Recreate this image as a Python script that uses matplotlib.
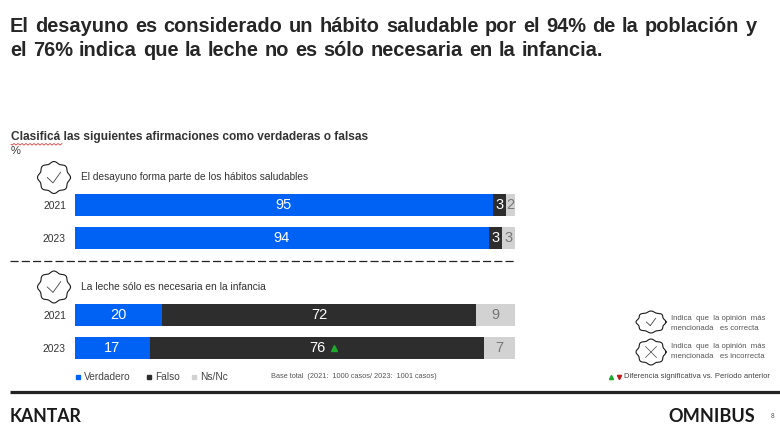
import numpy as np
import matplotlib
matplotlib.use('Agg')
import matplotlib.pyplot as plt

plt.rcParams['font.family'] = ['Liberation Sans', 'DejaVu Sans']

# chart values
years = ['2021', '2023', '2021', '2023']
verdadero = [95, 94, 20, 17]
falso = [3, 3, 72, 76]
nsnc = [2, 3, 9, 7]
series_names = ['Verdadero', 'Falso', 'Ns/Nc']
questions = ['El desayuno forma parte de los hábitos saludables',
             'La leche sólo es necesaria en la infancia']
title_lines = ['El desayuno es considerado un hábito saludable por el 94% de la población y',
               'el 76% indica que la leche no es sólo necesaria en la infancia.']
subtitle = 'Clasificá las siguientes afirmaciones como verdaderas o falsas'
base_text = 'Base total  (2021:  1000 casos/ 2023:  1001 casos)'
signif_text = 'Diferencia significativa vs. Período anterior'

BLUE = '#0062f5'
DARK = '#2d2d2d'
GREY = '#d2d2d2'
W, H = 780, 433

fig = plt.figure(figsize=(W / 100, H / 100), dpi=100)

# background axes in pixels for all the slide furniture
bg = fig.add_axes([0, 0, 1, 1])
bg.set_xlim(0, W)
bg.set_ylim(H, 0)
bg.axis('off')

# bars axes
row_y = [205, 238, 315, 348]
ax = fig.add_axes([75 / W, 1 - 370 / H, 440 / W, 180 / H])
ax.set_xlim(0, 100)
ax.set_ylim(370, 190)
ax.patch.set_alpha(0)
for s in ax.spines.values():
    s.set_visible(False)
ax.set_xticks([])
ax.set_yticks(row_y)
ax.set_yticklabels(years, fontsize=7.4, color='#333333')
ax.tick_params(axis='y', length=0, pad=6.5)

# rows don't always sum to 100 because of rounding, so bars are scaled to full width
v = np.array(verdadero, dtype=float)
f = np.array(falso, dtype=float)
n = np.array(nsnc, dtype=float)
total = v + f + n
v_w, f_w, n_w = v / total * 100, f / total * 100, n / total * 100

ax.barh(row_y, v_w, height=22, color=BLUE)
ax.barh(row_y, f_w, left=v_w, height=22, color=DARK)
ax.barh(row_y, n_w, left=v_w + f_w, height=22, color=GREY)

for i, y in enumerate(row_y):
    ax.text(v_w[i] / 2, y + 0.5, str(verdadero[i]), color='white', fontsize=10.5, ha='center', va='center')
    ax.text(v_w[i] + f_w[i] / 2, y + 0.5, str(falso[i]), color='white', fontsize=10.5, ha='center', va='center')
    ax.text(v_w[i] + f_w[i] + n_w[i] / 2, y + 0.5, str(nsnc[i]), color='#777777', fontsize=10.5, ha='center', va='center')

# up marker on the significant value, just right of the 76 label
ax.plot([v_w[3] + f_w[3] / 2], [348.5], marker='^', color='#1fa82e', ms=4.5, ls='none',
        transform=ax.transData + matplotlib.transforms.ScaledTranslation(17 / 100, 0, fig.dpi_scale_trans))


def justified(words_line, y, x0, x1, **kw):
    # place words one by one so the line fills x0..x1 like the slide text
    words = words_line.split(' ')
    r = fig.canvas.get_renderer()
    items = [bg.text(0, y, w, **kw) for w in words]
    widths = [t.get_window_extent(r).width for t in items]
    gap = (x1 - x0 - sum(widths)) / (len(words) - 1)
    x = x0
    for t, wd in zip(items, widths):
        t.set_x(x)
        x += wd + gap


def badge(cx, cy, rx, ry, cross=False):
    th = np.linspace(0, 2 * np.pi, 300)
    rad = 0.94 + 0.06 * np.cos(8 * th)
    bg.plot(cx + rx * rad * np.cos(th), cy + ry * rad * np.sin(th), color='#1a1a1a', lw=0.8)
    s = ry * 0.42
    if cross:
        bg.plot([cx - s, cx + s], [cy - s, cy + s], color='#444444', lw=0.5)
        bg.plot([cx - s, cx + s], [cy + s, cy - s], color='#444444', lw=0.5)
    else:
        bg.plot([cx - s, cx - s * 0.15, cx + s], [cy, cy + s * 0.8, cy - s * 0.8], color='#444444', lw=0.6)


# title
justified(title_lines[0], 26, 10, 757, fontsize=14.4, fontweight='bold', color='#262626', va='center')
justified(title_lines[1], 50, 10, 603, fontsize=14.4, fontweight='bold', color='#262626', va='center')

# subtitle
bg.text(11, 137, subtitle, fontsize=8.55, fontweight='bold', color='#333333', va='center')
bg.text(11, 151, '%', fontsize=8, color='#333333', va='center')
xs = np.arange(11, 63, 1.0)
bg.plot(xs, 144.3 + np.array([0, 0.8, 0, -0.8] * 13), color='#d04040', lw=0.6)

# question headers
badge(54, 177.5, 16.5, 16)
badge(54, 287, 16.5, 16)
bg.text(81, 177, questions[0], fontsize=7.3, color='#333333', va='center')
bg.text(81, 287.5, questions[1], fontsize=7.35, color='#333333', va='center')

# separator and bottom rule
bg.plot([10, 515], [261, 261], color='#222222', lw=0.9, dashes=(6.5, 2.5))
bg.plot([10, W], [391.5, 391.5], color='#222222', lw=2.3, solid_capstyle='butt')

# legend
for x, c, name in zip([78, 149, 194], [BLUE, DARK, GREY], series_names):
    bg.plot([x], [376.5], marker='s', color=c, ms=3.2, ls='none')
    bg.text(x + 6, 376.5, name, fontsize=7.3, color='#444444', va='center')
bg.text(271, 376.5, base_text, fontsize=5.3, color='#555555', va='center')

# right-hand key
badge(651, 322, 15, 11)
badge(651, 352, 15, 13, cross=True)
bg.text(671, 318, 'Indica  que  la opinión  más', fontsize=5.55, color='#555555', va='center')
bg.text(671, 329, 'mencionada   es correcta', fontsize=5.55, color='#555555', va='center')
bg.text(671, 346, 'Indica  que  la opinión  más', fontsize=5.55, color='#555555', va='center')
bg.text(671, 357, 'mencionada   es incorrecta', fontsize=5.55, color='#555555', va='center')
bg.plot([611], [376.5], marker='^', color='#1fa82e', ms=3, ls='none')
bg.plot([619], [376.5], marker='v', color='#c01818', ms=3, ls='none')
bg.text(624, 376.5, signif_text, fontsize=5.5, color='#444444', va='center')

# footer
bg.text(10, 416, 'KANTAR', fontsize=12.7, fontweight='bold', family='Lato', color='#1a1a1a', va='center')
bg.text(668, 416.5, 'OMNIBUS', fontsize=13.1, fontweight='bold', family='Lato', color='#1a1a1a', va='center')
bg.text(773, 416, '8', fontsize=4.8, color='#555555', ha='center', va='center')

fig.savefig('out.png', dpi=100)
